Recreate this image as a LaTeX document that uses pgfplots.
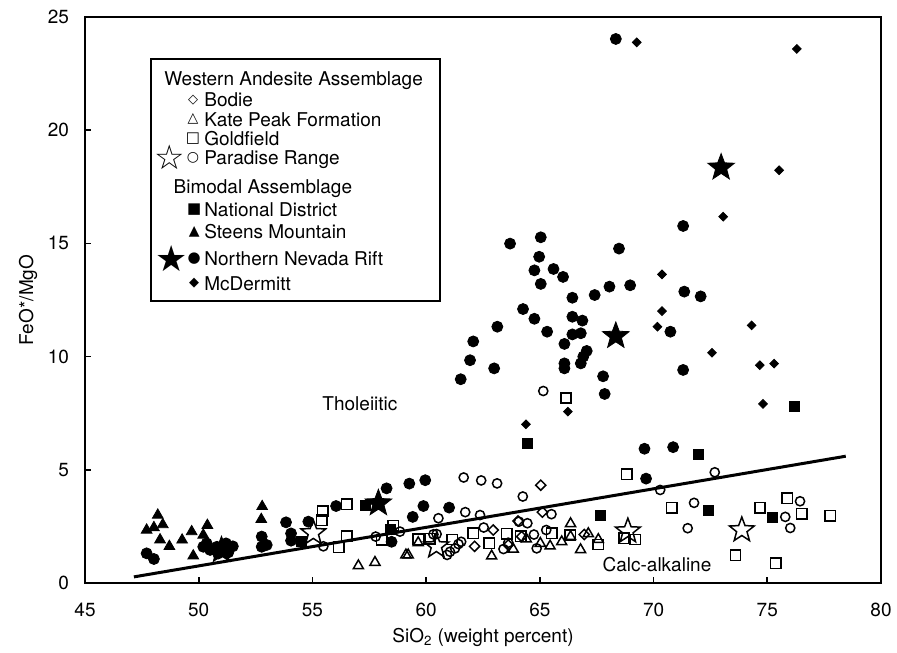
\documentclass[border=0pt]{standalone}
\usepackage{fontspec}
\setmainfont{TeX Gyre Heros}
\newfontfamily\dejavu{DejaVu Sans}
\usepackage{pgfplots}
\pgfplotsset{compat=1.18}

\pgfdeclareplotmark{fstar}{%
  \pgfpathmoveto{\pgfpointpolar{90}{\pgfplotmarksize}}%
  \pgfpathlineto{\pgfpointpolar{126}{0.42\pgfplotmarksize}}%
  \pgfpathlineto{\pgfpointpolar{162}{\pgfplotmarksize}}%
  \pgfpathlineto{\pgfpointpolar{198}{0.42\pgfplotmarksize}}%
  \pgfpathlineto{\pgfpointpolar{234}{\pgfplotmarksize}}%
  \pgfpathlineto{\pgfpointpolar{270}{0.42\pgfplotmarksize}}%
  \pgfpathlineto{\pgfpointpolar{306}{\pgfplotmarksize}}%
  \pgfpathlineto{\pgfpointpolar{342}{0.42\pgfplotmarksize}}%
  \pgfpathlineto{\pgfpointpolar{18}{\pgfplotmarksize}}%
  \pgfpathlineto{\pgfpointpolar{54}{0.42\pgfplotmarksize}}%
  \pgfpathclose
  \pgfusepathqfillstroke
}
\pgfdeclareplotmark{ostar}{%
  \pgfpathmoveto{\pgfpointpolar{90}{\pgfplotmarksize}}%
  \pgfpathlineto{\pgfpointpolar{126}{0.42\pgfplotmarksize}}%
  \pgfpathlineto{\pgfpointpolar{162}{\pgfplotmarksize}}%
  \pgfpathlineto{\pgfpointpolar{198}{0.42\pgfplotmarksize}}%
  \pgfpathlineto{\pgfpointpolar{234}{\pgfplotmarksize}}%
  \pgfpathlineto{\pgfpointpolar{270}{0.42\pgfplotmarksize}}%
  \pgfpathlineto{\pgfpointpolar{306}{\pgfplotmarksize}}%
  \pgfpathlineto{\pgfpointpolar{342}{0.42\pgfplotmarksize}}%
  \pgfpathlineto{\pgfpointpolar{18}{\pgfplotmarksize}}%
  \pgfpathlineto{\pgfpointpolar{54}{0.42\pgfplotmarksize}}%
  \pgfpathclose
  \pgfusepathqstroke
}

\newcommand\fs{\fontsize{9.5}{11}\selectfont}

\begin{document}
\begin{tikzpicture}
\useasboundingbox (-42.5pt,-34.5pt) rectangle (406pt,291.5pt);
\begin{axis}[
  at={(0,0)}, anchor=south west,
  scale only axis, width=398pt, height=283pt,
  xmin=45, xmax=80, ymin=0, ymax=25,
  xtick={45,50,...,80}, ytick={0,5,...,25},
  tick align=inside, tick pos=left, major tick length=3pt,
  axis line style={line width=1.2pt},
  every tick/.style={black, line width=0.8pt},
  tick label style={font=\fs},
  x tick label style={yshift=-6.4pt},
  y tick label style={xshift=-4.5pt},
  /pgf/number format/assume math mode=true,
  xlabel={SiO\textsubscript{2} (weight percent)},
  ylabel={FeO*/MgO},
  label style={font=\fs},
  xlabel style={at={(axis description cs:0.5,-0.0954)}, anchor=center},
  ylabel style={at={(axis description cs:-0.0716,0.5)}, anchor=center},
  clip=false,
]
% dividing line
\addplot[black, line width=1.5pt, no marks] coordinates {(47.15,0.27) (78.45,5.6)};

% Northern Nevada Rift (filled circles)
\addplot[only marks, mark=*, mark size=2.75pt, black] coordinates {
(68.34,24.03) (71.30,15.77) (63.69,14.99) (65.04,15.27) (64.97,14.41)
(64.76,13.81) (65.60,13.87) (66.02,13.52) (65.04,13.21) (68.48,14.77)
(68.06,13.09) (68.97,13.15) (67.41,12.72) (66.43,12.60) (71.35,12.87)
(72.07,12.66) (64.26,12.10) (64.76,11.67) (63.13,11.32) (66.43,11.76)
(66.87,11.59) (65.32,11.10) (66.43,10.98) (66.80,11.03) (70.74,11.10)
(62.07,10.67) (66.08,10.56) (61.93,9.84) (62.99,9.48) (61.52,9.00)
(67.06,10.25) (66.91,10.00) (66.80,9.70) (66.08,9.70) (66.08,9.48)
(67.78,9.13) (71.30,9.41) (67.85,8.35)
(69.60,5.93) (70.86,6.00) (69.67,4.61) (58.26,4.18) (59.26,4.39)
(59.96,4.54) (59.41,2.92) (59.88,3.40) (61.01,3.33) (58.48,1.82)
(56.04,3.40) (54.82,2.71) (53.84,2.68) (54.06,2.19) (54.06,1.87)
(52.77,2.05) (52.77,1.60) (52.99,1.68) (47.71,1.31) (48.03,1.06)
(50.20,1.60) (50.50,1.46) (50.35,1.75) (50.80,1.60) (51.20,1.75)
(51.50,1.62) (50.85,1.30) (51.30,1.35)
};
% Northern Nevada Rift stars
\addplot[only marks, mark=fstar, mark size=7pt, black] coordinates {
(51.0,1.45) (57.90,3.52) (68.34,10.91) (72.97,18.35)
};
% McDermitt
\addplot[only marks, mark=square*, mark size=1.55pt, black, mark options={rotate=45}] coordinates {
(69.26,23.88) (76.30,23.59) (75.52,18.23) (73.06,16.18) (70.37,13.63)
(70.37,12.01) (70.17,11.32) (74.31,11.38) (72.57,10.17) (74.67,9.62)
(75.30,9.69) (74.81,7.91) (66.23,7.57) (64.39,7.01)
};
% National District
\addplot[only marks, mark=square*, mark size=2.5pt, black] coordinates {
(64.47,6.15) (67.65,2.97) (71.95,5.67) (72.42,3.20) (75.24,2.90)
(76.21,7.79) (54.52,1.82) (57.31,3.44) (58.41,2.37)
};
% Steens Mountain
\addplot[only marks, mark=triangle*, mark size=3.1pt, black] coordinates {
(48.20,3.00) (47.71,2.34) (48.03,2.45) (48.42,2.58) (48.30,1.91)
(48.71,1.62) (49.27,1.90) (49.69,2.27) (50.38,2.55) (50.20,2.12)
(49.76,1.20) (52.79,3.38) (52.75,2.81)
};
% Kate Peak Formation
\addplot[only marks, mark=triangle, mark size=2.9pt, black, mark options={line width=0.75pt}] coordinates {
(57.02,0.76) (57.75,0.91) (59.11,1.24) (59.21,1.24) (59.65,1.78)
(62.88,1.19) (63.83,1.49) (66.35,2.62) (66.35,2.05) (66.79,1.47)
(65.45,1.63) (65.96,1.82) (65.02,1.75) (64.40,1.95) (67.13,2.18)
(67.57,1.92)
};
% Goldfield
\addplot[only marks, mark=square, mark size=2.6pt, black, mark options={line width=0.75pt}] coordinates {
(55.45,3.18) (55.41,2.78) (56.51,3.47) (56.51,2.06) (56.16,1.58)
(58.55,2.52) (58.04,1.90) (59.65,1.93) (60.17,1.96) (61.15,1.92)
(62.07,2.19) (62.78,1.76) (63.54,2.18) (64.16,2.07) (65.53,2.19)
(66.34,2.12) (66.15,8.17) (68.82,4.80) (70.80,3.33) (74.68,3.33)
(75.87,3.75) (76.51,3.05) (77.76,2.97) (73.60,1.23) (75.37,0.87)
(69.20,1.92) (68.70,1.97) (67.57,1.70)
};
% Paradise Range circles
\addplot[only marks, mark=o, mark size=2.3pt, black, mark options={line width=0.75pt}] coordinates {
(65.15,8.48) (61.65,4.66) (62.42,4.53) (63.12,4.40) (64.25,3.82)
(60.54,2.86) (61.72,3.13) (62.37,3.00) (65.51,3.04) (72.69,4.89)
(70.29,4.11) (71.78,3.54) (71.50,2.42) (75.79,2.92) (76.01,2.43)
(76.44,3.61) (55.48,1.62) (57.78,2.05) (58.85,2.27) (60.46,2.16)
(60.92,1.24) (64.08,2.71) (64.45,2.64) (62.53,2.45) (64.74,2.14)
(65.28,2.34) (63.40,1.50) (64.86,1.53) (61.27,1.53) (61.05,1.38)
(61.42,1.72) (61.54,1.82) (63.61,1.78) (60.32,2.15)
};
% Paradise Range stars
\addplot[only marks, mark=ostar, mark size=6.5pt, black, mark options={line width=0.75pt}] coordinates {
(55.04,2.21) (60.45,1.63) (68.87,2.29) (73.88,2.34)
};
% Bodie
\addplot[only marks, mark=square, mark size=1.8pt, black, mark options={rotate=45, line width=0.75pt}] coordinates {
(65.04,4.32) (65.11,3.13) (62.95,2.34) (62.13,1.62) (64.04,2.74)
(66.95,2.14) (64.20,2.05) (63.61,1.68)
};

% region labels
\node[font=\fs] at (axis cs:57.09,7.9) {Tholeiitic};
\node[font=\fs] at (axis cs:70.15,0.80) {Calc-alkaline};

% legend
\draw[line width=1.2pt] (axis cs:47.90,23.14) rectangle (axis cs:60.61,12.45);
\begin{scope}[every node/.style={font=\fs, inner sep=0pt}]
\node[anchor=base west] at (axis cs:48.47,21.99) {Western Andesite Assemblage};
\node[anchor=base west] at (axis cs:50.23,21.03) {Bodie};
\node[anchor=base west] at (axis cs:50.23,20.18) {Kate Peak Formation};
\node[anchor=base west] at (axis cs:50.23,19.34) {Goldfield};
\node[anchor=base west] at (axis cs:50.23,18.49) {Paradise Range};
\node[anchor=base west] at (axis cs:48.88,17.20) {Bimodal Assemblage};
\node[anchor=base west] at (axis cs:50.23,16.18) {National District};
\node[anchor=base west] at (axis cs:50.23,15.22) {Steens Mountain};
\node[anchor=base west] at (axis cs:50.23,14.04) {Northern Nevada Rift};
\node[anchor=base west] at (axis cs:50.23,12.94) {McDermitt};
\end{scope}
\begin{scope}[every node/.style={inner sep=0pt}]
\node at (axis cs:49.75,21.33) {\dejavu\fontsize{6.5}{6.5}\selectfont ◇};
\node at (axis cs:49.75,20.48) {\dejavu\fontsize{7}{7}\selectfont △};
\node at (axis cs:49.75,19.64) {\dejavu\fontsize{7.5}{7.5}\selectfont □};
\node at (axis cs:49.75,18.79) {\dejavu\fontsize{7}{7}\selectfont ○};
\node at (axis cs:48.72,18.79) {\dejavu\fontsize{17}{17}\selectfont ☆};
\node at (axis cs:49.80,16.48) {\dejavu\fontsize{7.5}{7.5}\selectfont ■};
\node at (axis cs:49.80,15.52) {\dejavu\fontsize{7}{7}\selectfont ▲};
\node at (axis cs:49.80,14.34) {\dejavu\fontsize{7.5}{7.5}\selectfont ●};
\node at (axis cs:48.81,14.34) {\dejavu\fontsize{18}{18}\selectfont ★};
\node at (axis cs:49.80,13.24) {\dejavu\fontsize{6.5}{6.5}\selectfont ◆};
\end{scope}
\end{axis}
\end{tikzpicture}
\end{document}
